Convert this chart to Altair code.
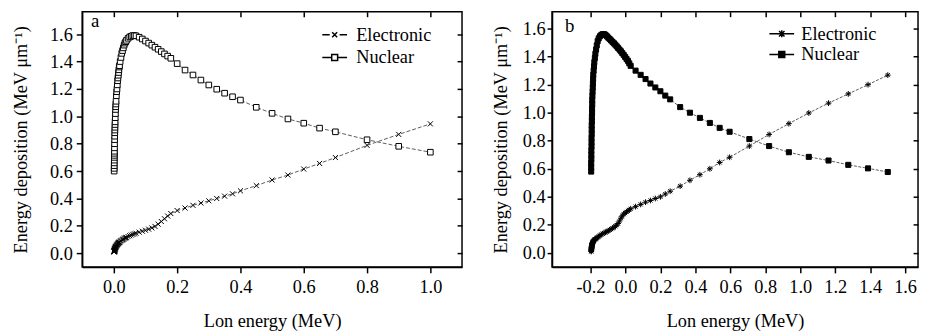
import altair as alt
import pandas as pd

FONT = "Liberation Serif"
FS = 18.5
SERIES = ["Electronic", "Nuclear"]

# ---------------- Panel a ----------------
energy_a = [0.001, 0.0011, 0.0012, 0.0013, 0.0014, 0.0015, 0.0016, 0.0017, 0.0018,
            0.002, 0.00225, 0.0025, 0.00275, 0.003, 0.00325, 0.0035, 0.00375, 0.004,
            0.0045, 0.005, 0.0055, 0.006, 0.0065, 0.007,
            0.008, 0.009, 0.01,
            0.011, 0.012, 0.013, 0.014, 0.015, 0.016, 0.017, 0.018,
            0.02, 0.0225, 0.025, 0.0275, 0.03, 0.0325, 0.035, 0.0375, 0.04,
            0.045, 0.05, 0.055, 0.06, 0.065, 0.07,
            0.08, 0.09, 0.1,
            0.11, 0.12, 0.13, 0.14, 0.15, 0.16, 0.17, 0.18,
            0.2, 0.225, 0.25, 0.275, 0.3, 0.325, 0.35, 0.375, 0.4,
            0.45, 0.5, 0.55, 0.6, 0.65, 0.7,
            0.8, 0.9, 1.0]
nuclear_a = [0.60, 0.62, 0.64, 0.66, 0.68, 0.70, 0.715, 0.73, 0.745,
             0.77, 0.80, 0.83, 0.855, 0.88, 0.90, 0.92, 0.94, 0.96,
             0.99, 1.02, 1.05, 1.07, 1.09, 1.11,
             1.15, 1.18, 1.20,
             1.23, 1.26, 1.28, 1.30, 1.32, 1.34, 1.36, 1.37,
             1.40, 1.43, 1.46, 1.48, 1.50, 1.52, 1.535, 1.545, 1.555,
             1.57, 1.58, 1.585, 1.59, 1.59, 1.588,
             1.578, 1.565, 1.55,
             1.535, 1.52, 1.505, 1.49, 1.473, 1.456, 1.44, 1.424,
             1.385, 1.338, 1.302, 1.265, 1.229, 1.198, 1.169, 1.143, 1.119,
             1.066, 1.022, 0.981, 0.950, 0.914, 0.887,
             0.829, 0.781, 0.738]
electronic_a = [0.010, 0.011, 0.012, 0.013, 0.014, 0.015, 0.016, 0.017, 0.018,
                0.020, 0.022, 0.024, 0.026, 0.028, 0.030, 0.032, 0.034, 0.036,
                0.039, 0.042, 0.045, 0.047, 0.049, 0.051,
                0.055, 0.058, 0.061,
                0.064, 0.067, 0.070, 0.073, 0.076, 0.078, 0.080, 0.082,
                0.086, 0.091, 0.095, 0.099, 0.103, 0.107, 0.110, 0.113, 0.116,
                0.122, 0.128, 0.133, 0.138, 0.142, 0.146,
                0.154, 0.161, 0.168,
                0.176, 0.185, 0.196, 0.212, 0.232, 0.252, 0.272, 0.290,
                0.312, 0.330, 0.350, 0.367, 0.383, 0.400, 0.417, 0.434, 0.456,
                0.494, 0.535, 0.571, 0.615, 0.656, 0.699,
                0.788, 0.868, 0.945]

# ---------------- Panel b ----------------
energy_b = [-0.196, -0.196, -0.196, -0.195, -0.195, -0.195, -0.194, -0.194, -0.194,
            -0.193, -0.193, -0.193, -0.192, -0.192, -0.191, -0.191, -0.190, -0.190,
            -0.189, -0.188, -0.187, -0.186, -0.185, -0.184, -0.182, -0.180, -0.178,
            -0.175, -0.172, -0.168, -0.164, -0.159,
            -0.153, -0.146, -0.138, -0.130, -0.122, -0.114, -0.106, -0.098, -0.090,
            -0.082, -0.074, -0.066, -0.058, -0.050, -0.042, -0.034, -0.026, -0.018,
            -0.010, -0.002, 0.006, 0.014, 0.022, 0.030,
            0.058, 0.087, 0.115, 0.143, 0.171, 0.200, 0.228, 0.256,
            0.313, 0.369, 0.426, 0.483, 0.539, 0.596,
            0.709, 0.822, 0.935, 1.049, 1.162, 1.275, 1.388, 1.501]
nuclear_b = [0.58, 0.61, 0.64, 0.67, 0.70, 0.73, 0.76, 0.79, 0.82, 0.85, 0.88, 0.91,
             0.94, 0.97, 1.00, 1.03, 1.06, 1.09, 1.12, 1.15, 1.18, 1.21, 1.24, 1.27,
             1.30, 1.33, 1.36, 1.39, 1.42, 1.45, 1.48, 1.51,
             1.53, 1.545, 1.555, 1.56, 1.56, 1.555, 1.545, 1.535, 1.525, 1.515, 1.505,
             1.495, 1.485, 1.473, 1.462, 1.45, 1.438, 1.425, 1.412, 1.398, 1.384,
             1.37, 1.352, 1.334,
             1.30, 1.27, 1.24, 1.208, 1.18, 1.153, 1.122, 1.095,
             1.040, 1.000, 0.963, 0.927, 0.892, 0.864,
             0.812, 0.762, 0.718, 0.685, 0.659, 0.628, 0.603, 0.577]
electronic_b = [0.010, 0.014, 0.018, 0.022, 0.026, 0.030, 0.033, 0.036, 0.039, 0.042,
                0.045, 0.048, 0.051, 0.054, 0.057, 0.060, 0.063, 0.066, 0.069, 0.072,
                0.075, 0.078, 0.081, 0.084, 0.087, 0.090, 0.093, 0.096, 0.099, 0.102,
                0.106, 0.111,
                0.117, 0.124, 0.131, 0.137, 0.142, 0.147, 0.152, 0.158, 0.164, 0.170,
                0.176, 0.182, 0.190, 0.198, 0.210, 0.228, 0.248, 0.264, 0.276, 0.285,
                0.293, 0.300, 0.307, 0.315,
                0.330, 0.346, 0.362, 0.374, 0.388, 0.400, 0.420, 0.440,
                0.476, 0.518, 0.558, 0.600, 0.645, 0.682,
                0.762, 0.845, 0.922, 0.998, 1.068, 1.134, 1.200, 1.268]

x_ticks_a = [0.0, 0.2, 0.4, 0.6, 0.8, 1.0]
x_ticks_b = [-0.2, 0.0, 0.2, 0.4, 0.6, 0.8, 1.0, 1.2, 1.4, 1.6]
y_ticks = [0.0, 0.2, 0.4, 0.6, 0.8, 1.0, 1.2, 1.4, 1.6]

Y_TITLE = "Energy deposition (MeV \u03bcm\u207b\u00b9)"
X_TITLE = "Lon energy (MeV)"
LABEL_EXPR = "replace(format(datum.value, '.1f'), '\u2212', '-')"

# marker shapes (unit paths)
X_PATH = "M-1,-1L1,1M1,-1L-1,1"
AST_PATH = "M-1,0L1,0M0,-1L0,1M-0.7,-0.7L0.7,0.7M0.7,-0.7L-0.7,0.7"
# legend symbols: line sample with marker (stroke-only paths, symbol size 100)
LEG_A = ["M-2.5,0L-1,0M1,0L2.5,0M-0.5,-0.5L0.5,0.5M0.5,-0.5L-0.5,0.5",
         "M-2.5,0L-0.6,0M0.6,0L2.5,0M-0.6,-0.6L0.6,-0.6L0.6,0.6L-0.6,0.6Z"]
LEG_B = ["M-2.5,0L2.5,0M0,-0.7L0,0.7M-0.55,-0.55L0.55,0.55M0.55,-0.55L-0.55,0.55",
         "M-2.5,0L2.5,0M-0.6,-0.6L0.6,-0.6L0.6,0.6L-0.6,0.6ZM-0.6,-0.35H0.6"
         "M-0.6,-0.1H0.6M-0.6,0.1H0.6M-0.6,0.35H0.6"]


def long_frame(x, elec, nuc):
    rows = []
    for i, (xi, e, n) in enumerate(zip(x, elec, nuc)):
        rows.append({"energy": xi, "value": e, "series": "Electronic", "idx": i})
        rows.append({"energy": xi, "value": n, "series": "Nuclear", "idx": i})
    return pd.DataFrame(rows)


def panel(df, letter, xdom, ydom, xticks, width, height, shapes, sizes, legend_paths,
          filled, line_dash, y_tick, y_lpad, y_tpad, legend_xy, label_offset,
          row_pad, letter_dx, letter_dy):
    xs = alt.Scale(domain=xdom, nice=False, zero=False)
    ys = alt.Scale(domain=ydom, nice=False, zero=False)
    X_main = alt.X("energy:Q", scale=xs, axis=alt.Axis(
        values=xticks, labelExpr=LABEL_EXPR, title=X_TITLE, tickSize=6,
        labelPadding=5, titlePadding=16))
    Y_main = alt.Y("value:Q", scale=ys, axis=alt.Axis(
        values=y_ticks, format=".1f", title=Y_TITLE, tickSize=y_tick,
        labelPadding=y_lpad, titlePadding=y_tpad))
    X_none = alt.X("energy:Q", scale=xs, axis=None)
    Y_none = alt.Y("value:Q", scale=ys, axis=None)
    X_top = alt.X("energy:Q", scale=xs, axis=alt.Axis(
        orient="top", values=xticks, labels=False, title=None, domain=False,
        tickSize=5, offset=-5))
    Y_right = alt.Y("value:Q", scale=ys, axis=alt.Axis(
        orient="right", values=y_ticks, labels=False, title=None, domain=False,
        tickSize=5, offset=-5))

    base = alt.Chart(df)
    line = base.mark_line(strokeWidth=0.8, color="#333333", strokeDash=line_dash).encode(
        x=X_main, y=Y_main, detail="series:N", order="idx:Q")
    pmark = base.mark_point(filled=True, fill=("black" if filled else "white"),
                            stroke="black", strokeWidth=1, opacity=1)
    pts = pmark.encode(
        x=X_none, y=Y_none,
        shape=alt.Shape("series:N", scale=alt.Scale(domain=SERIES, range=shapes),
                        legend=None),
        size=alt.Size("series:N", scale=alt.Scale(domain=SERIES, range=sizes),
                      legend=None))
    leg = base.mark_point(filled=False, color="black", strokeWidth=1.5, opacity=0).encode(
        x=X_none, y=Y_none,
        shape=alt.Shape("series:N", scale=alt.Scale(domain=SERIES, range=legend_paths),
                        legend=alt.Legend(
                            title=None, orient="none", legendX=legend_xy[0],
                            legendY=legend_xy[1], symbolSize=100,
                            symbolStrokeColor="black", symbolStrokeWidth=1.5,
                            symbolFillColor="white", symbolOpacity=1,
                            labelFont=FONT, labelFontSize=FS,
                            labelColor="black", labelOffset=label_offset,
                            rowPadding=row_pad)))
    frame = base.mark_point(opacity=0).encode(x=X_top, y=Y_right)

    return alt.layer(line, pts, leg, frame).resolve_scale(
        shape="independent", size="independent").resolve_axis(
        x="independent", y="independent").properties(
        width=width, height=height,
        title=alt.Title(letter, anchor="start", frame="group", orient="none",
                        font=FONT, fontSize=19, fontWeight="normal", color="black",
                        dx=letter_dx, dy=letter_dy, offset=0, baseline="top"))


df_a = long_frame(energy_a, electronic_a, nuclear_a)
df_b = long_frame(energy_b, electronic_b, nuclear_b)

pa = panel(df_a, "a", [-0.1, 1.1], [-0.1, 1.764], x_ticks_a, 384, 258,
           [X_PATH, "square"], [26, 32], LEG_A, False, [4, 2], 6, 4, 19,
           (246, 14), 12.5, 4, 9, 0)
pb = panel(df_b, "b", [-0.42, 1.674], [-0.1, 1.72], x_ticks_b, 370, 258,
           [AST_PATH, "square"], [34, 26], LEG_B, True, [3, 1.5], 5, 2, 12,
           (223, 13), 10.5, 2, 13, 5)

chart = alt.hconcat(pa, pb, spacing=27).properties(
    padding={"left": 3, "top": 0, "right": 0, "bottom": 0},
    background="white"
).configure_view(stroke="black", strokeWidth=1.5).configure_axis(
    labelFont=FONT, labelFontSize=FS, labelColor="black",
    titleFont=FONT, titleFontSize=FS, titleFontWeight="normal", titleColor="black",
    domainColor="black", domainWidth=1.5, tickColor="black", tickWidth=1.5,
    grid=False
)

chart.save("out.html", embed_options={"renderer": "svg", "actions": False})
